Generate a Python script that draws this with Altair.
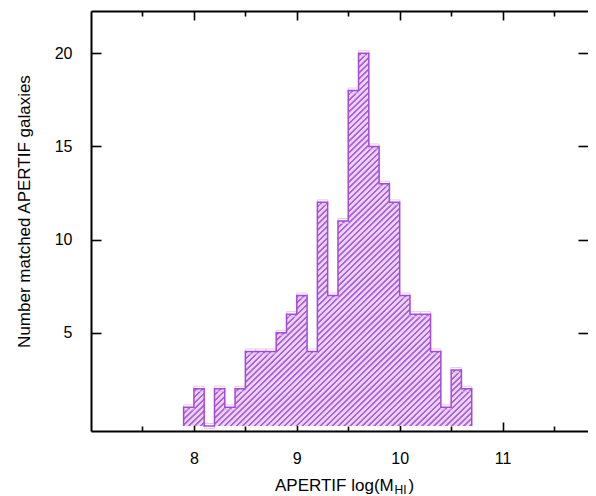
import math
import altair as alt
import pandas as pd

# ---- data ----
bin_starts = [7.9, 8.0, 8.1, 8.2, 8.3, 8.4, 8.5, 8.6, 8.7, 8.8, 8.9, 9.0, 9.1, 9.2,
              9.3, 9.4, 9.5, 9.6, 9.7, 9.8, 9.9, 10.0, 10.1, 10.2, 10.3, 10.4, 10.5, 10.6]
counts = [1, 2, 0, 2, 1, 2, 4, 4, 4, 5, 6, 7, 4, 12,
          7, 11, 18, 20, 15, 13, 12, 7, 6, 6, 4, 1, 3, 2]
bin_width = 0.1
x_major = [8, 9, 10, 11]
x_minor = [7.5, 8.5, 9.5, 10.5, 11.5]
y_ticks = [5, 10, 15, 20]
x_title_main = "APERTIF log(M"
x_title_sub = "HI"
x_title_end = ")"
y_title = "Number matched APERTIF galaxies"

# ---- layout / style ----
W, H = 497, 420
x_dom = [7.0, 11.83]
y_dom = [0, 22]
FONT = "Liberation Sans"
LIGHT = "#e9d5f4"
DARK = "#b060df"
EDGE = "#a54ad6"
SEP = "#dcbcec"

ends = [round(s + bin_width, 3) for s in bin_starts]
bars_df = pd.DataFrame({"start": bin_starts, "end": ends, "count": counts})
area_df = pd.DataFrame({"start": bin_starts + [ends[-1]], "count": counts + [counts[-1]]})
outline_df = pd.DataFrame({
    "idx": list(range(len(bin_starts) + 2)),
    "start": [bin_starts[0]] + bin_starts + [ends[-1]],
    "count": [0] + counts + [0],
})

# hatch made from a striped linear gradient over the histogram's bounding box
px_x = W / (x_dom[1] - x_dom[0])
px_y = H / (y_dom[1] - y_dom[0])
bw = (ends[-1] - bin_starts[0]) * px_x
bh = max(counts) * px_y
k = (bw + bh) / (bw * bw + bh * bh)
N = int(round((bw + bh) / 6.0))  # ~6 px horizontal period, 45 degrees
profile = [(0.0, LIGHT), (0.42, LIGHT), (0.55, DARK), (0.82, DARK), (0.95, LIGHT)]
stops = []
for i in range(N):
    for f, c in profile:
        stops.append(alt.GradientStop(offset=min(1.0, (i + f) / N), color=c))
stops.append(alt.GradientStop(offset=1.0, color=LIGHT))
hatch = alt.Gradient(gradient="linear", stops=stops, x1=0, y1=0, x2=k * bw, y2=k * bh)

xs = alt.Scale(domain=x_dom, nice=False, zero=False)
ys = alt.Scale(domain=y_dom, nice=False)

common_axis = dict(grid=False, title=None)

# layer A: hatched area + labelled bottom/left axes
area = alt.Chart(area_df).mark_area(interpolate="step-after", fill=hatch).encode(
    x=alt.X("start:Q", scale=xs, axis=alt.Axis(
        orient="bottom", values=x_major, format="d", ticks=False, tickSize=0,
        domain=True, domainColor="black", domainWidth=2, labelFontSize=16,
        labelPadding=19, labelColor="black", labelFont=FONT, **common_axis)),
    y=alt.Y("count:Q", scale=ys, axis=alt.Axis(
        orient="left", values=y_ticks, format="d", ticks=False, tickSize=0,
        domain=True, domainColor="black", domainWidth=2, labelFontSize=16,
        labelPadding=19, labelColor="black", labelFont=FONT, grid=False,
        title=y_title, titleFont=FONT, titleFontSize=17, titleFontWeight="normal",
        titleColor="black", titleAngle=270, titleAlign="center",
        titleBaseline="alphabetic", titleX=-62, titleY=200)),
)

# layer B: faint bin separators + inward major ticks bottom/left
bars = alt.Chart(bars_df).mark_bar(fillOpacity=0, stroke=SEP, strokeWidth=0.8).encode(
    x=alt.X("start:Q", scale=xs, axis=alt.Axis(
        orient="bottom", values=x_major, labels=False, domain=False,
        tickSize=9, offset=-9, tickWidth=1.6, tickColor="black", **common_axis)),
    x2="end:Q",
    y=alt.Y("count:Q", scale=ys, axis=alt.Axis(
        orient="left", values=y_ticks, labels=False, domain=False,
        tickSize=10, offset=-10, tickWidth=1.6, tickColor="black", **common_axis)),
)

# layer C: outline + top frame + right inward ticks
outline = alt.Chart(outline_df).mark_line(
    interpolate="step-after", color=EDGE, strokeWidth=1.5).encode(
    x=alt.X("start:Q", scale=xs, axis=alt.Axis(
        orient="top", values=x_major, labels=False, ticks=False, tickSize=0,
        domain=True, domainColor="black", domainWidth=2, **common_axis)),
    y=alt.Y("count:Q", scale=ys, axis=alt.Axis(
        orient="right", values=y_ticks, labels=False, domain=False,
        tickSize=10, offset=-10, tickWidth=1.6, tickColor="black", **common_axis)),
    order=alt.Order("idx:Q"),
)


def tick_layer(orient, values, size):
    return alt.Chart(bars_df).mark_point(opacity=0).encode(
        x=alt.X("start:Q", scale=xs, axis=alt.Axis(
            orient=orient, values=values, labels=False, domain=False,
            tickSize=size, offset=-size, tickWidth=1.6, tickColor="black",
            **common_axis)),
        y=alt.Y("count:Q", scale=ys, axis=None),
    )


top_major = tick_layer("top", x_major, 9)
top_minor = tick_layer("top", x_minor, 5)
bottom_minor = tick_layer("bottom", x_minor, 5)


def text_layer(txt, xpos, ypos, size):
    return alt.Chart(pd.DataFrame({"t": [txt]})).mark_text(
        align="left", baseline="alphabetic", font=FONT, fontSize=size,
        color="black").encode(text="t:N", x=alt.value(xpos), y=alt.value(ypos))


t1 = text_layer(x_title_main, 184, 480, 17)
t2 = text_layer(x_title_sub, 303.5, 483, 12)
t3 = text_layer(x_title_end, 317.5, 480, 17)

chart = alt.layer(
    area, bars, outline, top_major, top_minor, bottom_minor, t1, t2, t3
).resolve_axis(x="independent", y="independent").properties(
    width=W, height=H,
    padding={"left": 83, "top": 3, "right": 0, "bottom": 66},
    autosize=alt.AutoSizeParams(type="none"),
).configure_view(stroke=None).configure(background="white")

chart.save("out.html", embed_options={"renderer": "svg", "actions": False})
